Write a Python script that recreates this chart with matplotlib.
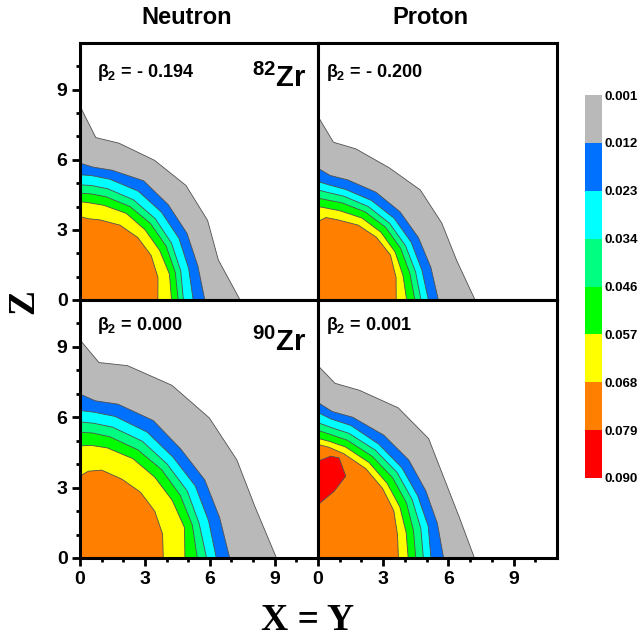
import numpy as np
import matplotlib
matplotlib.use('Agg')
import matplotlib.pyplot as plt
from matplotlib.colors import ListedColormap, BoundaryNorm
from matplotlib.cm import ScalarMappable

plt.rcParams['font.family'] = ['Liberation Sans', 'DejaVu Sans']
plt.rcParams['font.weight'] = 'bold'
plt.rcParams['mathtext.fontset'] = 'custom'
plt.rcParams['mathtext.rm'] = 'Liberation Sans:bold'
plt.rcParams['mathtext.it'] = 'Liberation Sans:bold'
plt.rcParams['mathtext.bf'] = 'Liberation Sans:bold'

# density contour levels (fm^-3) and fill colours
levels = [0.001, 0.012, 0.023, 0.034, 0.046, 0.057, 0.068, 0.079, 0.090]
level_colors = ['#b9b9b9', '#0070ff', '#00ffff', '#00ff80', '#00ff00',
                '#ffff00', '#ff8000', '#ff0000']

# boundary radius (fm) of each level, sampled at these polar angles from the X=Y axis
angles_deg = [0, 15, 30, 45, 60, 75, 84, 90]

# 82Zr neutron: rows = boundaries of 0.001 ... 0.068
zr82_neutron = [
    [7.40, 6.62, 6.81, 6.93, 6.90, 6.95, 6.99, 8.30],
    [5.77, 5.64, 5.71, 5.77, 5.89, 5.75, 5.72, 5.86],
    [5.23, 5.20, 5.28, 5.32, 5.38, 5.35, 5.35, 5.36],
    [4.78, 4.82, 4.88, 4.92, 4.95, 4.93, 4.93, 4.93],
    [4.54, 4.56, 4.60, 4.62, 4.62, 4.58, 4.57, 4.57],
    [4.23, 4.28, 4.25, 4.25, 4.28, 4.20, 4.18, 4.21],
    [3.60, 3.73, 3.80, 3.78, 3.70, 3.55, 3.50, 3.57],
]
# 82Zr proton
zr82_proton = [
    [7.23, 6.60, 6.58, 6.66, 6.54, 6.70, 6.79, 7.86],
    [5.54, 5.38, 5.34, 5.34, 5.33, 5.32, 5.36, 5.64],
    [5.08, 4.95, 4.95, 4.95, 4.92, 4.90, 4.95, 5.07],
    [4.74, 4.65, 4.65, 4.65, 4.62, 4.60, 4.62, 4.71],
    [4.46, 4.38, 4.40, 4.40, 4.35, 4.30, 4.30, 4.36],
    [4.08, 4.05, 4.10, 4.10, 4.05, 3.95, 3.95, 4.00],
    [3.60, 3.72, 3.85, 3.80, 3.70, 3.55, 3.55, 3.36],
]
# 90Zr neutron
zr90_neutron = [
    [9.08, 8.38, 8.37, 8.45, 8.50, 8.49, 8.38, 9.30],
    [6.92, 6.68, 6.66, 6.58, 6.77, 6.79, 6.74, 6.99],
    [6.30, 6.15, 6.15, 6.08, 6.20, 6.25, 6.25, 6.29],
    [5.85, 5.70, 5.72, 5.68, 5.75, 5.78, 5.78, 5.80],
    [5.42, 5.38, 5.35, 5.33, 5.33, 5.35, 5.36, 5.36],
    [4.85, 5.00, 4.92, 4.88, 4.89, 4.86, 4.83, 4.78],
    [3.85, 3.95, 3.99, 3.96, 3.88, 3.88, 3.72, 3.50],
]
# 90Zr proton
zr90_proton = [
    [7.20, 6.73, 6.72, 7.20, 7.39, 7.40, 7.49, 8.20],
    [5.78, 5.69, 5.73, 5.91, 6.05, 6.21, 6.28, 6.63],
    [5.20, 5.25, 5.30, 5.45, 5.60, 5.85, 5.95, 6.20],
    [4.85, 4.90, 5.00, 5.15, 5.30, 5.50, 5.60, 5.77],
    [4.50, 4.55, 4.70, 4.85, 5.00, 5.20, 5.30, 5.44],
    [4.15, 4.20, 4.35, 4.50, 4.70, 4.90, 5.00, 5.10],
    [3.70, 3.79, 4.03, 4.20, 4.40, 4.60, 4.75, 4.84],
]
# 90Zr proton: region above 0.079 (off-centre blob on the Z axis)
zr90_proton_red_x = [0.0, 0.58, 0.97, 1.28, 0.74, 0.0]
zr90_proton_red_z = [4.13, 4.34, 4.27, 3.49, 2.84, 2.27]

beta2 = ['- 0.194', '- 0.200', '0.000', '0.001']
nuclei = ['82', '90']
columns = ['Neutron', 'Proton']

fig = plt.figure(figsize=(6.42, 6.38), dpi=100)

x0, x1 = 80 / 642, 557 / 642
xm = 318 / 642
y0, y1 = 1 - 558 / 638, 1 - 43 / 638
ym = 1 - 300 / 638
boxes = [[x0, ym, xm - x0, y1 - ym], [xm, ym, x1 - xm, y1 - ym],
         [x0, y0, xm - x0, ym - y0], [xm, y0, x1 - xm, ym - y0]]
panels = [zr82_neutron, zr82_proton, zr90_neutron, zr90_proton]

th = np.deg2rad(angles_deg)
axes = []
for i, box in enumerate(boxes):
    ax = fig.add_axes(box)
    axes.append(ax)
    for k, radii in enumerate(panels[i]):
        r = np.array(radii)
        xs = r * np.cos(th)
        zs = r * np.sin(th)
        ax.fill(np.r_[0, xs, 0], np.r_[0, zs, 0], color=level_colors[k], lw=0)
        ax.plot(xs, zs, color='#505050', lw=0.6)
    if i == 3:
        ax.fill(zr90_proton_red_x, zr90_proton_red_z, color=level_colors[7], lw=0)
        ax.plot(zr90_proton_red_x, zr90_proton_red_z, color='#505050', lw=0.6)

    ax.set_xlim(0, 11)
    ax.set_ylim(0, 11)
    for s in ax.spines.values():
        s.set_linewidth(2.2)
        s.set_zorder(5)
    ax.set_xticks([0, 3, 6, 9])
    ax.set_yticks([0, 3, 6, 9])
    ax.set_xticks(range(0, 11), minor=True)
    ax.set_yticks(range(0, 11), minor=True)
    ax.tick_params(which='major', direction='out', length=6, width=2,
                   labelsize=14, pad=3)
    ax.tick_params(which='minor', direction='out', length=3, width=2)
    if i in (0, 1):
        ax.tick_params(axis='x', which='both', bottom=False, labelbottom=False)
    if i in (1, 3):
        ax.tick_params(axis='y', which='both', left=False, labelleft=False)
    for lab in ax.get_xticklabels() + ax.get_yticklabels():
        lab.set_fontweight('bold')

    bx = 0.07 if i in (0, 2) else 0.035
    by = 0.885 if i in (0, 1) else 0.9
    ax.text(bx, by, r'$\beta_2$ = ' + beta2[i], transform=ax.transAxes,
            fontsize=13, ha='left', va='center')
    if i in (0, 2):
        zy = 0.864 if i == 0 else 0.835
        ax.text(0.95, zy, r'$^{' + nuclei[i // 2] + '}$Zr', transform=ax.transAxes,
                fontsize=21, ha='right', va='center')

fig.text(187 / 642, 1 - 18 / 638, columns[0], fontsize=17, ha='center', va='center')
fig.text(430 / 642, 1 - 18 / 638, columns[1], fontsize=17, ha='center', va='center')
fig.text(24 / 642, 1 - 302 / 638, 'Z', fontsize=27, family='Liberation Serif',
         weight='bold', rotation=90, ha='center', va='center')
fig.text(308 / 642, 1 - 620 / 638, 'X = Y', fontsize=27, family='Liberation Serif',
         weight='bold', ha='center', va='center')

# colour bar with the level boundaries, 0.001 at the top
cax = fig.add_axes([585 / 642, 1 - 478 / 638, 17 / 642, 383 / 638])
cmap = ListedColormap(level_colors)
norm = BoundaryNorm(levels, cmap.N)
cb = fig.colorbar(ScalarMappable(norm=norm, cmap=cmap), cax=cax,
                  ticks=levels, spacing='uniform')
cb.outline.set_visible(False)
cax.invert_yaxis()
cax.tick_params(length=0, labelsize=9.5, pad=2)
cax.set_yticklabels(['%.3f' % v for v in levels])
for lab in cax.get_yticklabels():
    lab.set_fontweight('bold')

fig.savefig('out.png', dpi=100)
